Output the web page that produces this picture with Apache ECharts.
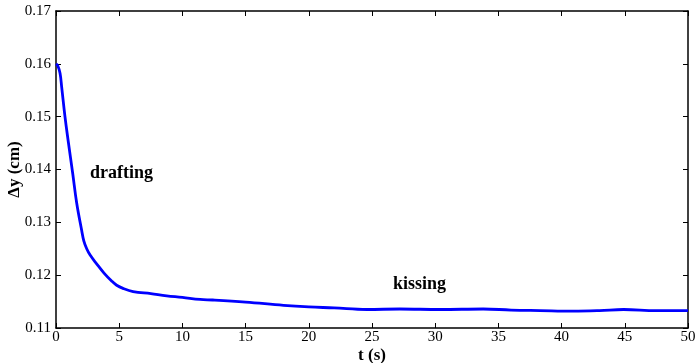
<!DOCTYPE html>
<html>
<head>
<meta charset="utf-8">
<script src="https://cdn.jsdelivr.net/npm/echarts@6/dist/echarts.min.js"></script>
<style>
  html, body { margin: 0; padding: 0; background: #fff; }
  #chart { width: 697px; height: 363px; }
</style>
</head>
<body>
<div id="chart"></div>
<script>
// time (s) and separation dy (cm)
const tValues = [0, 0.15, 0.32, 0.45, 0.71, 0.97, 1.32, 1.64, 2.03, 2.2, 2.43, 2.7, 3.2, 3.8, 4.4, 4.8, 5.3, 6.1, 7.5, 8.76, 10, 11.4, 12.4, 15, 18, 20, 22, 24.6, 27.2, 30.4, 33.8, 36, 38.3, 40.9, 43, 44.9, 47.5, 50];
const dyValues = [0.1600, 0.1596, 0.1582, 0.1556, 0.1500, 0.1453, 0.1393, 0.1336, 0.1285, 0.1265, 0.1250, 0.1238, 0.1222, 0.1204, 0.1189, 0.1181, 0.1175, 0.1169, 0.1165, 0.1161, 0.1158, 0.1154, 0.1153, 0.1149, 0.1143, 0.1140, 0.1138, 0.1135, 0.1136, 0.1135, 0.1136, 0.1134, 0.1133, 0.1132, 0.1133, 0.1135, 0.1133, 0.1133];
const xTicks = [0, 50, 5];      // min, max, step
const yTicks = [0.11, 0.17, 0.01];

const serif = 'Liberation Serif';
const chart = echarts.init(document.getElementById('chart'));

const axisCommon = {
    axisLine: { show: true, onZero: false, lineStyle: { color: '#000', width: 1.5 } },
    axisTick: { show: true, inside: true, length: 5, lineStyle: { color: '#000', width: 1 } },
    splitLine: { show: false }
};

chart.setOption({
    animation: false,
    textStyle: { fontFamily: serif },
    grid: { left: 56, right: 9, top: 11, bottom: 35, outerBoundsMode: 'none' },
    xAxis: [{
        type: 'value',
        min: xTicks[0], max: xTicks[1], interval: xTicks[2],
        name: 't (s)', nameLocation: 'middle', nameGap: 19, nameMoveOverlap: false,
        nameTextStyle: { fontFamily: serif, fontWeight: 'bold', fontSize: 17, color: '#000' },
        axisLabel: { fontFamily: serif, fontSize: 15, color: '#000', margin: 2 },
        ...axisCommon
    }, {
        type: 'value', position: 'top',
        min: xTicks[0], max: xTicks[1], interval: xTicks[2],
        axisLabel: { show: false },
        ...axisCommon
    }],
    yAxis: [{
        type: 'value',
        min: yTicks[0], max: yTicks[1], interval: yTicks[2],
        name: 'Δy (cm)', nameLocation: 'middle', nameGap: 33, nameMoveOverlap: false,
        nameTextStyle: { fontFamily: serif, fontWeight: 'bold', fontSize: 17, color: '#000' },
        axisLabel: { fontFamily: serif, fontSize: 15, color: '#000', margin: 5,
            formatter: v => v.toFixed(2) },
        ...axisCommon
    }, {
        type: 'value', position: 'right',
        min: yTicks[0], max: yTicks[1], interval: yTicks[2],
        axisLabel: { show: false },
        ...axisCommon
    }],
    graphic: [
        { type: 'text', left: 90, top: 164,
          style: { text: 'drafting', font: 'bold 18px "Liberation Serif"', fill: '#000' } },
        { type: 'text', left: 393, top: 275,
          style: { text: 'kissing', font: 'bold 18px "Liberation Serif"', fill: '#000' } }
    ],
    series: [{
        type: 'line',
        data: tValues.map((t, i) => [t, dyValues[i]]),
        smooth: 0.4,
        symbol: 'none',
        lineStyle: { color: '#0000ff', width: 2.8 }
    }]
});
</script>
</body>
</html>
